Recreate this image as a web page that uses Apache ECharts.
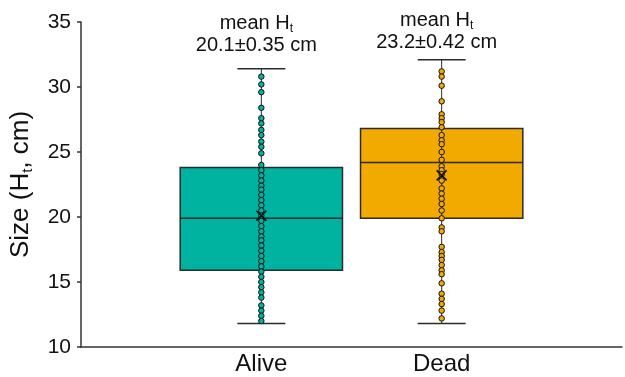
<!DOCTYPE html>
<html><head><meta charset="utf-8">
<script src="https://cdn.jsdelivr.net/npm/echarts@6/dist/echarts.min.js"></script>
<style>html,body{margin:0;padding:0;background:#fff}#c{width:625px;height:377px}</style>
</head><body><div id="c"></div>
<script>
// ---- data ----
const categories = ['Alive', 'Dead'];
const axisCategories = ['', 'Alive', 'Dead', ''];
const boxLow = [11.8, 11.8];
const boxQ1 = [15.9, 19.9];
const boxMedian = [19.9, 24.2];
const boxQ3 = [23.8, 26.8];
const boxHigh = [31.4, 32.1];
const means = [20.1, 23.2];
const meanSE = [0.35, 0.42];
const aliveValues = [30.8, 30.2, 29.6, 28.4, 27.6, 27.2, 26.7, 26.3, 25.8, 25.4, 24.9, 24.0,
  23.6, 23.2, 22.8, 22.4, 22.1, 21.7, 21.3, 20.9, 20.5, 20.1, 19.7, 19.3, 18.9, 18.5, 18.2,
  17.8, 17.4, 17.0, 16.6, 16.2, 15.8, 15.4, 15.0, 14.6, 14.2, 13.8, 13.2, 12.8, 12.4, 12.0];
const deadValues = [31.2, 30.8, 30.1, 28.9, 27.9, 27.6, 27.3, 26.9, 26.3, 25.9, 25.6, 25.0,
  24.4, 23.9, 23.6, 23.3, 22.8, 22.2, 21.8, 21.4, 21.0, 20.5, 19.9, 19.2, 18.9, 17.7, 17.3,
  17.0, 16.7, 16.3, 15.9, 15.6, 14.9, 14.1, 13.7, 13.3, 12.8, 12.2];
const yMin = 10, yMax = 35, yStep = 5;

// ---- styles ----
const colors = ['#00B2A0', '#F2A900'];
const FONT = 'Liberation Sans, Arial, sans-serif';
const TXT = '#111';

const chart = echarts.init(document.getElementById('c'), null, {renderer: 'canvas'});

const boxData = categories.map((c, i) => [c, boxLow[i], boxQ1[i], boxMedian[i], boxQ3[i], boxHigh[i]]);
const meanData = categories.map((c, i) => [c, means[i]]);
const annotY = [34.05, 34.26];
const annotData = categories.map((c, i) => ({value: [c, annotY[i]], idx: i}));

const option = {
  animation: false,
  backgroundColor: '#fff',
  grid: {left: 81, right: -2, top: 22, bottom: 30, containLabel: false},
  xAxis: {
    type: 'category',
    data: axisCategories,
    boundaryGap: false,
    axisLine: {lineStyle: {color: '#333', width: 1.5}},
    axisTick: {show: false},
    axisLabel: {interval: 0, fontSize: 24, color: TXT, fontFamily: FONT, margin: 5},
    splitLine: {show: false}
  },
  yAxis: {
    type: 'value',
    min: yMin, max: yMax, interval: yStep,
    axisLine: {show: true, lineStyle: {color: '#333', width: 1.5}},
    axisTick: {show: true, length: 4, lineStyle: {color: '#333', width: 1.5}},
    axisLabel: {fontSize: 21, color: TXT, fontFamily: FONT, margin: 10},
    splitLine: {show: false},
    name: '{a|Size (H}{s|t}{a|, cm)}',
    nameLocation: 'middle',
    nameRotate: 90,
    nameGap: 46,
    nameTextStyle: {
      rich: {
        a: {fontSize: 26, color: TXT, fontFamily: FONT, lineHeight: 28},
        s: {fontSize: 15, color: TXT, fontFamily: FONT, verticalAlign: 'bottom'}
      }
    }
  },
  series: [
    {
      type: 'custom',
      z: 1,
      data: boxData,
      encode: {x: 0, y: [1, 2, 3, 4, 5]},
      renderItem: function (params, api) {
        const x = api.value(0);
        const band = api.size([1, 0])[0];
        const half = band * 0.45;
        const cap = band * 0.133;
        const pLow = api.coord([x, api.value(1)]);
        const pQ1 = api.coord([x, api.value(2)]);
        const pMed = api.coord([x, api.value(3)]);
        const pQ3 = api.coord([x, api.value(4)]);
        const pHigh = api.coord([x, api.value(5)]);
        const cx = pLow[0];
        const stroke = {stroke: '#2b2b2b', lineWidth: 1.5};
        return {
          type: 'group',
          children: [
            {type: 'rect', shape: {x: cx - half, y: pQ3[1], width: half * 2, height: pQ1[1] - pQ3[1]},
              style: {fill: colors[params.dataIndex], stroke: '#2b2b2b', lineWidth: 1.5}},
            {type: 'line', shape: {x1: cx - half, y1: pMed[1], x2: cx + half, y2: pMed[1]}, style: stroke},
            {type: 'line', shape: {x1: cx, y1: pLow[1], x2: cx, y2: pHigh[1]}, style: {stroke: '#2b2b2b', lineWidth: 1}},
            {type: 'line', shape: {x1: cx - cap, y1: pLow[1], x2: cx + cap, y2: pLow[1]}, style: stroke},
            {type: 'line', shape: {x1: cx - cap, y1: pHigh[1], x2: cx + cap, y2: pHigh[1]}, style: stroke}
          ]
        };
      }
    },
    {
      type: 'scatter', z: 3, symbolSize: 5.5,
      itemStyle: {color: colors[0], borderColor: '#111', borderWidth: 1, opacity: 1},
      data: aliveValues.map(v => ['Alive', v])
    },
    {
      type: 'scatter', z: 3, symbolSize: 5.5,
      itemStyle: {color: colors[1], borderColor: '#111', borderWidth: 1, opacity: 1},
      data: deadValues.map(v => ['Dead', v])
    },
    {
      type: 'custom', z: 4,
      data: meanData,
      encode: {x: 0, y: 1},
      renderItem: function (params, api) {
        const p = api.coord([api.value(0), api.value(1)]);
        const s = 5;
        const st = {stroke: '#111', lineWidth: 1.6};
        return {
          type: 'group',
          children: [
            {type: 'line', shape: {x1: p[0] - s, y1: p[1] - s, x2: p[0] + s, y2: p[1] + s}, style: st},
            {type: 'line', shape: {x1: p[0] - s, y1: p[1] + s, x2: p[0] + s, y2: p[1] - s}, style: st}
          ]
        };
      }
    },
    {
      type: 'scatter', z: 5, symbolSize: 0, silent: true,
      itemStyle: {opacity: 1},
      data: annotData,
      label: {
        show: true,
        position: 'inside',
        offset: [-5, 0],
        align: 'center',
        opacity: 1,
        formatter: function (p) {
          const i = p.data.idx;
          return '{a|mean H}{s|t}\n{a|' + means[i].toFixed(1) + '±' + meanSE[i].toFixed(2) + ' cm}';
        },
        rich: {
          a: {fontSize: 20, color: TXT, fontFamily: FONT, lineHeight: 22},
          s: {fontSize: 12, color: TXT, fontFamily: FONT, verticalAlign: 'bottom'}
        }
      }
    }
  ]
};
chart.setOption(option);
</script>
</body></html>
